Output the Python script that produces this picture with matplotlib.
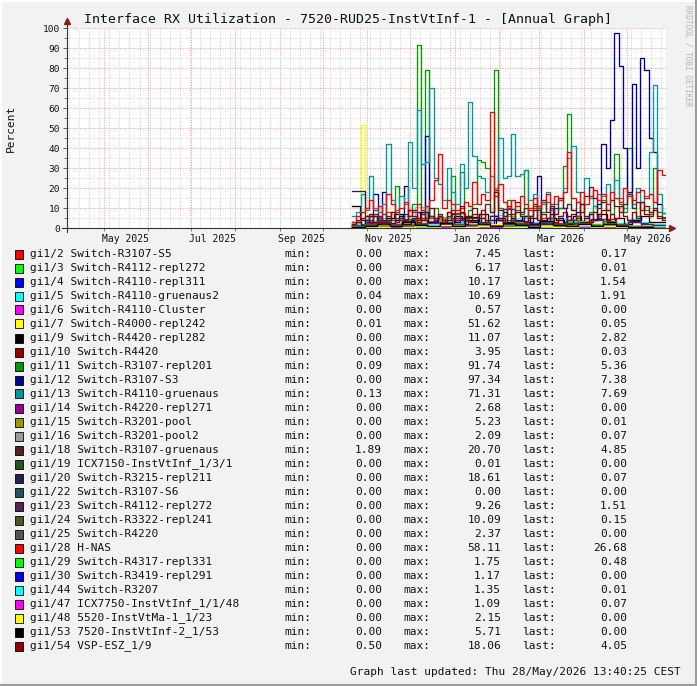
import datetime as dt
import matplotlib
matplotlib.use("Agg")
import matplotlib.pyplot as plt
import matplotlib.dates as mdates
from matplotlib.ticker import MultipleLocator
from matplotlib.lines import Line2D
from matplotlib.patches import Rectangle

plt.rcParams['font.family'] = ['DejaVu Sans Mono', 'DejaVu Sans']

# time span of the graph and of the recorded data
t_left = dt.datetime(2025, 4, 5, 9, 0)
t_right = dt.datetime(2026, 5, 28, 13, 40)
data_start = dt.datetime(2025, 10, 21, 8, 0)

# ---- data (percent), legend order ----
names = ["gi1/2 Switch-R3107-S5", "gi1/3 Switch-R4112-repl272", "gi1/4 Switch-R4110-repl311",
         "gi1/5 Switch-R4110-gruenaus2", "gi1/6 Switch-R4110-Cluster", "gi1/7 Switch-R4000-repl242",
         "gi1/9 Switch-R4420-repl282", "gi1/10 Switch-R4420", "gi1/11 Switch-R3107-repl201",
         "gi1/12 Switch-R3107-S3", "gi1/13 Switch-R4110-gruenaus", "gi1/14 Switch-R4220-repl271",
         "gi1/15 Switch-R3201-pool", "gi1/16 Switch-R3201-pool2", "gi1/18 Switch-R3107-gruenaus",
         "gi1/19 ICX7150-InstVtInf_1/3/1", "gi1/20 Switch-R3215-repl211", "gi1/22 Switch-R3107-S6",
         "gi1/23 Switch-R4112-repl272", "gi1/24 Switch-R3322-repl241", "gi1/25 Switch-R4220",
         "gi1/28 H-NAS", "gi1/29 Switch-R4317-repl331", "gi1/30 Switch-R3419-repl291",
         "gi1/44 Switch-R3207", "gi1/47 ICX7750-InstVtInf_1/1/48", "gi1/48 5520-InstVtMa-1_1/23",
         "gi1/53 7520-InstVtInf-2_1/53", "gi1/54 VSP-ESZ_1/9"]
colors = ["#FF0000", "#00FF00", "#0000FF", "#00FFFF", "#FF00FF", "#FFFF00", "#000000", "#990000",
          "#009900", "#000099", "#009999", "#990099", "#999900", "#999999", "#552222", "#225522",
          "#222255", "#225555", "#552255", "#555522", "#555555", "#FF0000", "#00FF00", "#0000FF",
          "#00FFFF", "#FF00FF", "#FFFF00", "#000000", "#990000"]
mins = [0.00, 0.00, 0.00, 0.04, 0.00, 0.01, 0.00, 0.00, 0.09, 0.00, 0.13, 0.00, 0.00, 0.00, 1.89,
        0.00, 0.00, 0.00, 0.00, 0.00, 0.00, 0.00, 0.00, 0.00, 0.00, 0.00, 0.00, 0.00, 0.50]
maxs = [7.45, 6.17, 10.17, 10.69, 0.57, 51.62, 11.07, 3.95, 91.74, 97.34, 71.31, 2.68, 5.23, 2.09,
        20.70, 0.01, 18.61, 0.00, 9.26, 10.09, 2.37, 58.11, 1.75, 1.17, 1.35, 1.09, 2.15, 5.71, 18.06]
lasts = [0.17, 0.01, 1.54, 1.91, 0.00, 0.05, 2.82, 0.03, 5.36, 7.38, 7.69, 0.00, 0.01, 0.07, 4.85,
         0.00, 0.07, 0.00, 1.51, 0.15, 0.00, 26.68, 0.48, 0.00, 0.01, 0.07, 0.00, 0.00, 4.05]

gi2 = [1.2, 2.5, 3.1, 4.0, 2.2, 5.1, 3.3, 2.0, 7.45, 3.5, 2.1, 4.2, 1.8, 3.0, 2.6, 5.0, 2.4, 1.9, 3.6, 2.2, 4.4, 1.5, 2.8, 1.0, 0.17]
gi3 = [0.5, 1.0, 0.8, 2.1, 1.2, 0.6, 3.0, 1.5, 0.9, 2.2, 1.1, 0.7, 6.17, 1.3, 0.8, 2.4, 1.0, 3.1, 0.6, 1.8, 2.7, 1.2, 0.9, 0.4, 0.01]
gi4 = [1.5, 2.8, 4.2, 2.0, 3.5, 1.8, 5.1, 2.3, 3.0, 1.6, 2.4, 4.0, 2.1, 3.3, 1.9, 2.7, 10.17, 3.8, 2.2, 4.5, 2.9, 1.7, 3.6, 2.5, 1.54]
gi5 = [2.0, 3.5, 5.2, 4.1, 6.0, 10.69, 3.2, 5.5, 2.8, 4.0, 3.1, 6.3, 2.5, 4.8, 3.0, 2.2, 5.1, 3.6, 2.4, 4.2, 3.0, 2.6, 4.5, 2.9, 1.91]
gi6 = [0.1, 0.2, 0.15, 0.3, 0.2, 0.1, 0.25, 0.4, 0.2, 0.1, 0.3, 0.57, 0.2, 0.15, 0.1, 0.25, 0.2, 0.3, 0.1, 0.2, 0.35, 0.15, 0.1, 0.05, 0.0]
gi7 = [0.5, 1.2, 51.62, 1.0, 0.4, 0.8, 0.3, 1.5, 0.6, 0.9,
       0.4, 1.8, 0.7, 2.5, 0.5, 1.2, 0.9, 2.0, 1.4, 0.6,
       1.1, 0.5, 0.8, 0.3, 1.0, 0.6, 0.4, 0.9, 0.5, 1.3,
       0.7, 0.4, 0.6, 0.3, 0.8, 0.5, 0.4, 0.7, 0.3, 0.6,
       0.5, 0.9, 0.4, 1.1, 0.6, 2.2, 0.5, 0.7, 0.3, 0.8,
       0.4, 0.6, 0.9, 0.5, 0.3, 0.7, 0.4, 0.6, 1.8, 0.5,
       0.8, 0.4, 0.6, 0.3, 1.6, 0.5, 0.7, 0.4, 0.6, 2.4,
       0.5, 0.3, 0.05]
gi9 = [11.07, 4, 6, 3, 5, 7, 2, 4, 8, 3, 5, 2, 6, 4, 3, 7, 2, 5, 3, 4,
       6, 2, 3, 5, 4, 2, 6, 3, 4, 7, 3, 5, 2, 4, 6, 3, 2.82]
gi10 = [0.5, 1.2, 2.0, 0.8, 1.5, 3.95, 1.0, 0.6, 1.8, 0.9, 2.4, 1.1, 0.7, 1.6, 0.8, 2.2, 1.0, 0.5, 1.3, 0.7, 1.9, 0.6, 0.9, 0.4, 0.03]
gi11 = [1.5, 3, 2, 4, 6, 3, 5, 2.5, 8, 4,
        21, 6, 4, 9, 12, 91.74, 7, 79, 5, 10,
        6, 4, 8, 26, 7, 28, 5, 9, 12, 34,
        33, 30, 8, 79, 10, 6, 14, 5, 9, 7,
        29, 6, 11, 4, 8, 13, 5, 7, 10, 31,
        57, 9, 6, 12, 5, 8, 11, 6, 14, 9,
        7, 37, 12, 8, 40, 10, 6, 13, 9, 7,
        30, 8, 5.36]
gi12 = [2, 3, 1.5, 4, 3, 17, 5, 18, 3, 2.5,
        4, 6, 21, 3, 5, 8, 4, 46, 6, 3,
        5, 2, 4, 7, 3, 5, 2, 6, 4, 3,
        5, 3, 2, 6, 4, 8, 3, 5, 2, 4,
        6, 3, 5, 26, 4, 3, 7, 2, 5, 3,
        6, 4, 8, 3, 5, 7, 4, 12, 42, 30,
        54, 97.34, 81, 40, 18, 72, 30, 85, 79, 45,
        38, 12, 7.38]
gi13 = [6, 8, 17, 9, 26, 10, 8, 12, 42, 14,
        9, 16, 12, 43, 20, 59, 32, 33, 70, 25,
        22, 14, 30, 18, 12, 32, 20, 63, 36, 26,
        25, 18, 26, 20, 45, 25, 26, 47, 26, 27,
        29, 14, 17, 10, 12, 18, 9, 12, 14, 20,
        35, 41, 18, 12, 25, 15, 11, 17, 16, 22,
        14, 24, 15, 10, 17, 12, 20, 13, 16, 38,
        71.31, 17, 7.69]
gi14 = [0.3, 0.8, 0.5, 1.2, 0.6, 0.4, 2.68, 0.7, 0.5, 1.0, 0.3, 0.6, 0.9, 0.4, 1.4, 0.5, 0.3, 0.8, 0.6, 0.4, 1.1, 0.5, 0.3, 0.2, 0.0]
gi15 = [0.8, 1.5, 2.2, 1.0, 3.1, 1.4, 0.9, 5.23, 1.8, 1.2, 2.5, 0.9, 1.6, 2.9, 1.1, 0.7, 2.0, 1.3, 3.4, 1.0, 1.7, 0.8, 1.2, 0.5, 0.01]
gi16 = [0.2, 0.5, 0.8, 0.4, 1.0, 0.6, 0.3, 0.9, 2.09, 0.5, 0.7, 0.4, 1.2, 0.6, 0.3, 0.8, 0.5, 1.1, 0.4, 0.6, 0.9, 0.3, 0.5, 0.2, 0.07]
gi18 = [3, 4, 5, 6, 4, 7, 5, 3, 6, 8,
        5, 4, 7, 6, 9, 5, 4, 8, 6, 5,
        7, 4, 6, 9, 5, 8, 4, 6, 10, 7,
        5, 12, 8, 19, 9, 6, 11, 7, 13, 8,
        10, 6, 12, 9, 14, 8, 11, 7, 15, 10,
        12, 9, 13, 8, 16, 20.7, 15, 10, 13, 9,
        14, 11, 8, 12, 17, 10, 13, 9, 11, 8,
        10, 6, 4.85]
gi19 = [0, 0, 0, 0.01, 0, 0, 0, 0, 0, 0, 0, 0, 0, 0, 0, 0, 0, 0, 0, 0, 0, 0, 0, 0, 0]
gi20 = [18.61, 6.0, 3.2, 1.5, 0.8, 2.1, 0.6, 1.0, 0.4, 0.9, 0.3, 0.7, 0.5, 1.2, 0.4, 0.6, 0.3, 0.8, 0.5, 0.4, 0.6, 0.3, 0.5, 0.2, 0.07]
gi22 = [0, 0, 0, 0, 0, 0, 0, 0, 0, 0, 0, 0, 0, 0, 0, 0, 0, 0, 0, 0, 0, 0, 0, 0, 0]
gi23 = [0.8, 1.5, 2.4, 1.2, 3.0, 1.8, 0.9, 2.2, 4.1, 1.5, 2.8, 1.1, 9.26, 2.0, 1.4, 3.3, 1.7, 2.5, 1.2, 3.8, 2.1, 1.6, 2.9, 1.9, 1.51]
gi24 = [1.0, 2.2, 3.5, 1.8, 4.6, 2.5, 1.4, 3.2, 2.0, 5.1, 2.7, 1.6, 3.9, 2.3, 10.09, 3.0, 1.8, 4.2, 2.6, 1.5, 3.4, 2.1, 1.2, 0.8, 0.15]
gi25 = [0.3, 0.8, 1.2, 0.6, 1.5, 0.9, 0.4, 2.37, 1.0, 0.7, 1.3, 0.5, 0.9, 1.6, 0.6, 0.4, 1.1, 0.7, 1.4, 0.5, 0.8, 0.3, 0.6, 0.2, 0.0]
gi28 = [3, 6, 8, 10, 14, 9, 11, 7, 17, 12,
        8, 10, 13, 9, 8, 12, 9, 11, 14, 24,
        37, 10, 14, 12, 9, 10, 13, 11, 23, 12,
        17, 14, 58.11, 16, 22, 13, 10, 14, 11, 16,
        12, 9, 15, 11, 13, 17, 12, 16, 14, 18,
        38, 15, 13, 18, 12, 16, 19, 14, 17, 12,
        18, 15, 13, 20, 16, 14, 18, 19, 15, 17,
        13, 29, 26.68]
gi29 = [0.2, 0.5, 0.3, 0.8, 0.4, 1.1, 0.3, 0.6, 0.9, 0.4, 1.75, 0.5, 0.3, 0.7, 0.4, 1.2, 0.6, 0.3, 0.9, 0.5, 1.4, 0.7, 0.6, 0.5, 0.48]
gi30 = [0.1, 0.3, 0.2, 0.5, 0.3, 0.8, 0.2, 0.4, 1.17, 0.3, 0.5, 0.2, 0.6, 0.3, 0.4, 0.9, 0.2, 0.5, 0.3, 0.7, 0.4, 0.2, 0.3, 0.1, 0.0]
gi44 = [0.2, 0.4, 0.3, 0.7, 0.5, 0.3, 1.35, 0.4, 0.6, 0.3, 0.8, 0.5, 0.2, 0.9, 0.4, 0.3, 0.6, 0.4, 1.0, 0.3, 0.5, 0.2, 0.4, 0.1, 0.01]
gi47 = [0.1, 0.3, 0.2, 0.4, 0.6, 0.2, 0.3, 0.5, 0.2, 1.09, 0.3, 0.4, 0.2, 0.6, 0.3, 0.2, 0.5, 0.3, 0.7, 0.2, 0.4, 0.3, 0.2, 0.1, 0.07]
gi48 = [0.3, 0.6, 0.4, 1.0, 0.5, 0.8, 0.3, 1.4, 0.6, 0.4, 0.9, 2.15, 0.5, 0.7, 0.3, 1.1, 0.6, 0.4, 1.6, 0.5, 0.8, 0.3, 0.6, 0.2, 0.0]
gi53 = [0.5, 1.2, 2.0, 0.9, 3.1, 1.5, 0.8, 2.4, 1.1, 5.71, 1.8, 0.9, 2.6, 1.3, 0.7, 3.3, 1.6, 1.0, 2.2, 0.8, 1.9, 1.2, 0.6, 0.3, 0.0]
gi54 = [2, 3, 5, 4, 7, 3, 6, 2, 4, 8,
        3, 5, 4, 9, 6, 3, 7, 5, 10, 4,
        6, 3, 8, 5, 4, 11, 6, 3, 7, 5,
        9, 4, 6, 18.06, 5, 3, 7, 4, 8, 6,
        3, 5, 9, 4, 7, 5, 10, 3, 6, 8,
        4, 7, 5, 12, 6, 3, 8, 5, 9, 4,
        7, 5, 11, 6, 4, 8, 5, 13, 7, 6,
        9, 5, 4.05]

series = [gi2, gi3, gi4, gi5, gi6, gi7, gi9, gi10, gi11, gi12, gi13, gi14, gi15, gi16, gi18,
          gi19, gi20, gi22, gi23, gi24, gi25, gi28, gi29, gi30, gi44, gi47, gi48, gi53, gi54]

W, H = 697, 686
BG = "#F2F2F2"
fig = plt.figure(figsize=(W / 100, H / 100), dpi=100, facecolor=BG)

# plot area in pixels: x 67..666, y 28..228
ax = fig.add_axes([67 / W, 1 - 228 / H, 599 / W, 200 / H])
ax.set_facecolor("white")

span = t_right - data_start
for vals, col in zip(series, colors):
    n = len(vals)
    edges = [mdates.date2num(data_start + span * k / n) for k in range(n + 1)]
    ax.step(edges, list(vals) + [vals[-1]], where='post', color=col, lw=0.95, zorder=3)

ax.set_xlim(mdates.date2num(t_left), mdates.date2num(t_right))
ax.set_ylim(0, 100)

# grid
ax.yaxis.set_major_locator(MultipleLocator(10))
ax.yaxis.set_minor_locator(MultipleLocator(5))
ax.xaxis.set_major_locator(mdates.MonthLocator())
ax.xaxis.set_minor_locator(mdates.WeekdayLocator(byweekday=mdates.MO))
ax.xaxis.set_major_formatter(plt.NullFormatter())
ax.grid(which='minor', color='#D4D4D4', lw=0.6, ls=(0, (1.5, 1.5)), zorder=1)
ax.grid(which='major', color='#F29A9A', lw=0.6, ls=(0, (1.5, 1.5)), zorder=1)
ax.tick_params(axis='y', which='major', length=3, width=0.6, color='#444444',
               labelsize=6.8, pad=2, labelcolor='#111111')
ax.tick_params(axis='y', which='minor', length=2, width=0.5, color='#444444')
ax.tick_params(axis='x', which='major', length=2, width=0.5, color='#444444')
ax.tick_params(axis='x', which='minor', length=0)
for s in ax.spines.values():
    s.set_visible(False)

# month labels centred on the middle of every second month
sec = ax.secondary_xaxis('bottom')
sec.xaxis.set_major_locator(mdates.MonthLocator(bymonth=[1, 3, 5, 7, 9, 11], bymonthday=16))
sec.xaxis.set_major_formatter(mdates.DateFormatter('%b %Y'))
sec.tick_params(length=0, labelsize=7, pad=4, labelcolor='#111111')
for s in sec.spines.values():
    s.set_visible(False)

# axes with arrows
ax.add_line(Line2D([0, 0], [-0.02, 1.035], transform=ax.transAxes, color='#333333', lw=0.8, clip_on=False, zorder=5))
ax.add_line(Line2D([-0.008, 1.01], [0, 0], transform=ax.transAxes, color='#333333', lw=0.8, clip_on=False, zorder=5))
ax.plot([0], [1.035], marker='^', ms=4, color='#8B1A1A', transform=ax.transAxes, clip_on=False, zorder=6)
ax.plot([1.01], [0], marker='>', ms=4, color='#8B1A1A', transform=ax.transAxes, clip_on=False, zorder=6)

fig.text(11 / W, 1 - 128 / H, "Percent", rotation=90, ha='center', va='center',
         fontsize=8, color='#111111')

fig.text(348 / W, 1 - 19 / H, "Interface RX Utilization - 7520-RUD25-InstVtInf-1 - [Annual Graph]",
         ha='center', va='center', fontsize=9.5, color='#111111')
fig.text(688 / W, 1 - 5 / H, "RRDTOOL / TOBI OETIKER", rotation=-90, ha='center', va='top',
         fontsize=5.5, color='#B5B5B5')

# legend rows
row0, step = 254, (646 - 254) / 28
for k, name in enumerate(names):
    y = 1 - (row0 + step * k) / H
    fig.patches.append(Rectangle((15 / W, y - 4.5 / H), 8 / W, 9 / H, transform=fig.transFigure,
                                 facecolor=colors[k], edgecolor='black', lw=0.6))
    fig.text(30 / W, y, name, ha='left', va='center', fontsize=8, color='#111111')
    fig.text(284 / W, y, "min:", ha='left', va='center', fontsize=8, color='#111111')
    fig.text(382 / W, y, "%.2f" % mins[k], ha='right', va='center', fontsize=8, color='#111111')
    fig.text(403 / W, y, "max:", ha='left', va='center', fontsize=8, color='#111111')
    fig.text(501 / W, y, "%.2f" % maxs[k], ha='right', va='center', fontsize=8, color='#111111')
    fig.text(522 / W, y, "last:", ha='left', va='center', fontsize=8, color='#111111')
    fig.text(627 / W, y, "%.2f" % lasts[k], ha='right', va='center', fontsize=8, color='#111111')

fig.text(681 / W, 1 - 672 / H, "Graph last updated: Thu 28/May/2026 13:40:25 CEST",
         ha='right', va='center', fontsize=8, color='#111111')

# frame around the picture
fig.add_artist(Line2D([0, 1], [1 - 0.5 / H, 1 - 0.5 / H], transform=fig.transFigure, color='#FFFFFF', lw=1.5))
fig.add_artist(Line2D([0.5 / W, 0.5 / W], [0, 1], transform=fig.transFigure, color='#FFFFFF', lw=1.5))
fig.add_artist(Line2D([1 - 1.5 / W, 1 - 1.5 / W], [0, 1], transform=fig.transFigure, color='#9C9C9C', lw=1.5))
fig.add_artist(Line2D([0, 1], [1.5 / H, 1.5 / H], transform=fig.transFigure, color='#9C9C9C', lw=1.5))

fig.savefig("out.png", dpi=100, facecolor=BG)
